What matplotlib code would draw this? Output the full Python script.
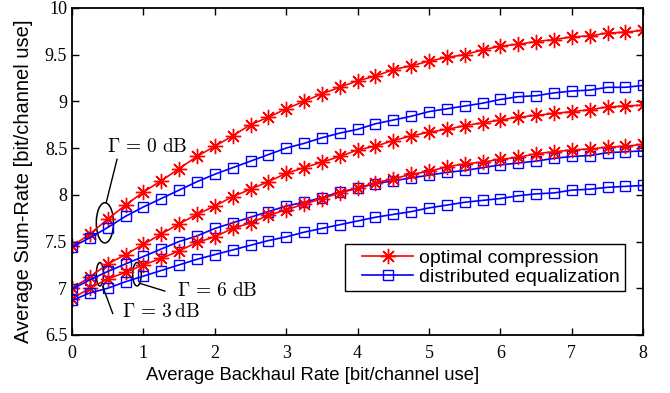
import matplotlib
matplotlib.use("Agg")
import matplotlib.pyplot as plt
from matplotlib.patches import Ellipse
from matplotlib.lines import Line2D
from matplotlib.legend_handler import HandlerLine2D

x = [0, 0.25, 0.5, 0.75, 1, 1.25, 1.5, 1.75, 2, 2.25, 2.5, 2.75, 3, 3.25, 3.5, 3.75,
     4, 4.25, 4.5, 4.75, 5, 5.25, 5.5, 5.75, 6, 6.25, 6.5, 6.75, 7, 7.25, 7.5, 7.75, 8]

opt_g0 = [7.45, 7.58, 7.74, 7.89, 8.03, 8.15, 8.28, 8.41, 8.52, 8.63, 8.75, 8.83, 8.92, 9.00,
          9.08, 9.15, 9.22, 9.27, 9.34, 9.38, 9.43, 9.47, 9.50, 9.55, 9.59, 9.61, 9.64, 9.66,
          9.69, 9.70, 9.73, 9.74, 9.76]
dist_g0 = [7.44, 7.54, 7.65, 7.77, 7.87, 7.96, 8.05, 8.14, 8.22, 8.29, 8.36, 8.43, 8.50, 8.55,
           8.61, 8.66, 8.70, 8.76, 8.80, 8.84, 8.89, 8.92, 8.95, 8.98, 9.02, 9.05, 9.06, 9.09,
           9.11, 9.12, 9.15, 9.15, 9.17]
opt_g3 = [7.00, 7.12, 7.26, 7.36, 7.47, 7.58, 7.69, 7.79, 7.88, 7.98, 8.06, 8.14, 8.23, 8.29,
          8.35, 8.41, 8.48, 8.52, 8.58, 8.63, 8.67, 8.70, 8.74, 8.77, 8.80, 8.83, 8.85, 8.87,
          8.89, 8.91, 8.94, 8.95, 8.96]
dist_g3 = [6.99, 7.09, 7.18, 7.26, 7.34, 7.42, 7.50, 7.56, 7.64, 7.70, 7.76, 7.82, 7.88, 7.92,
           7.97, 8.03, 8.07, 8.12, 8.15, 8.18, 8.21, 8.24, 8.26, 8.29, 8.32, 8.34, 8.36, 8.39,
           8.41, 8.42, 8.45, 8.46, 8.47]
opt_g6 = [6.89, 7.00, 7.10, 7.17, 7.25, 7.32, 7.40, 7.49, 7.55, 7.64, 7.70, 7.78, 7.84, 7.90,
          7.96, 8.02, 8.07, 8.13, 8.17, 8.22, 8.25, 8.30, 8.33, 8.35, 8.38, 8.40, 8.44, 8.46,
          8.48, 8.49, 8.51, 8.52, 8.54]
dist_g6 = [6.87, 6.95, 7.00, 7.07, 7.13, 7.19, 7.25, 7.31, 7.36, 7.41, 7.46, 7.51, 7.55, 7.60,
           7.64, 7.68, 7.72, 7.76, 7.79, 7.82, 7.86, 7.89, 7.92, 7.94, 7.96, 7.99, 8.01, 8.02,
           8.05, 8.06, 8.08, 8.09, 8.10]

xticks = [0, 1, 2, 3, 4, 5, 6, 7, 8]
yticks = [6.5, 7, 7.5, 8, 8.5, 9, 9.5, 10]
ytick_labels = ["6.5", "7", "7.5", "8", "8.5", "9", "9.5", "10"]

plt.rcParams['mathtext.fontset'] = 'cm'

fig = plt.figure(figsize=(6.7, 3.93), dpi=100)
ax = fig.add_axes([0.1075, 0.1476, 0.8525, 0.8324])

star = (8, 2, 0)
kw_opt = dict(color='red', marker=star, markersize=11, lw=1.2, markeredgewidth=1.0)
kw_dist = dict(color='blue', marker='s', markersize=7.5, lw=1.2, markerfacecolor='none',
               markeredgewidth=1.0)

ax.plot(x, opt_g0, label='optimal compression', **kw_opt)
ax.plot(x, dist_g0, label='distributed equalization', **kw_dist)
ax.plot(x, opt_g3, **kw_opt)
ax.plot(x, dist_g3, **kw_dist)
ax.plot(x, opt_g6, **kw_opt)
ax.plot(x, dist_g6, **kw_dist)

ax.set_xlim(0, 8)
ax.set_ylim(6.5, 10)
ax.set_xticks(xticks)
ax.set_yticks(yticks)
ax.set_yticklabels(ytick_labels)
ax.tick_params(direction='in', top=True, right=True, length=5, width=1, labelsize=13)
ax.tick_params(axis='x', pad=7)
for lab in ax.get_xticklabels() + ax.get_yticklabels():
    lab.set_family('Liberation Serif')
for s in ax.spines.values():
    s.set_linewidth(1.3)

ax.set_xlabel('Average Backhaul Rate [bit/channel use]', family='Liberation Sans', fontsize=13.3)
ax.set_ylabel('Average Sum-Rate [bit/channel use]', family='Liberation Sans', fontsize=14.5)
ax.xaxis.set_label_coords(0.422, -0.098)
ax.yaxis.set_label_coords(-0.068, 0.471)

# annotations
ax.add_patch(Ellipse((0.46, 7.70), 0.24, 0.43, fill=False, ec='black', lw=1.1))
ax.plot([0.48, 0.63], [7.92, 8.38], color='black', lw=1.0)
ax.text(0.49, 8.52, r'$\Gamma\, =\, 0\ \mathrm{dB}$', fontsize=14, va='center', ha='left')

ax.add_patch(Ellipse((0.39, 7.15), 0.10, 0.25, fill=False, ec='black', lw=1.1))
ax.plot([0.43, 0.57], [7.02, 6.73], color='black', lw=1.0)
ax.text(0.70, 6.75, r'$\Gamma\, =\, 3\,\mathrm{dB}$', fontsize=14, va='center', ha='left')

ax.add_patch(Ellipse((0.91, 7.15), 0.12, 0.25, fill=False, ec='black', lw=1.1))
ax.plot([0.96, 1.30], [7.05, 6.97], color='black', lw=1.0)
ax.text(1.47, 6.98, r'$\Gamma\, =\, 6\ \mathrm{dB}$', fontsize=14, va='center', ha='left')

leg = ax.legend(loc='lower right', bbox_to_anchor=(0.9685, 0.1346), frameon=True, fancybox=False,
                edgecolor='black', framealpha=1, borderpad=0.28, handlelength=3.25,
                handletextpad=0.3, labelspacing=0.05, borderaxespad=0,
                handler_map={Line2D: HandlerLine2D(xpad=0.62)},
                prop={'family': 'Liberation Sans', 'size': 14})
leg.get_frame().set_linewidth(1.0)

fig.savefig('out.png', dpi=100)
